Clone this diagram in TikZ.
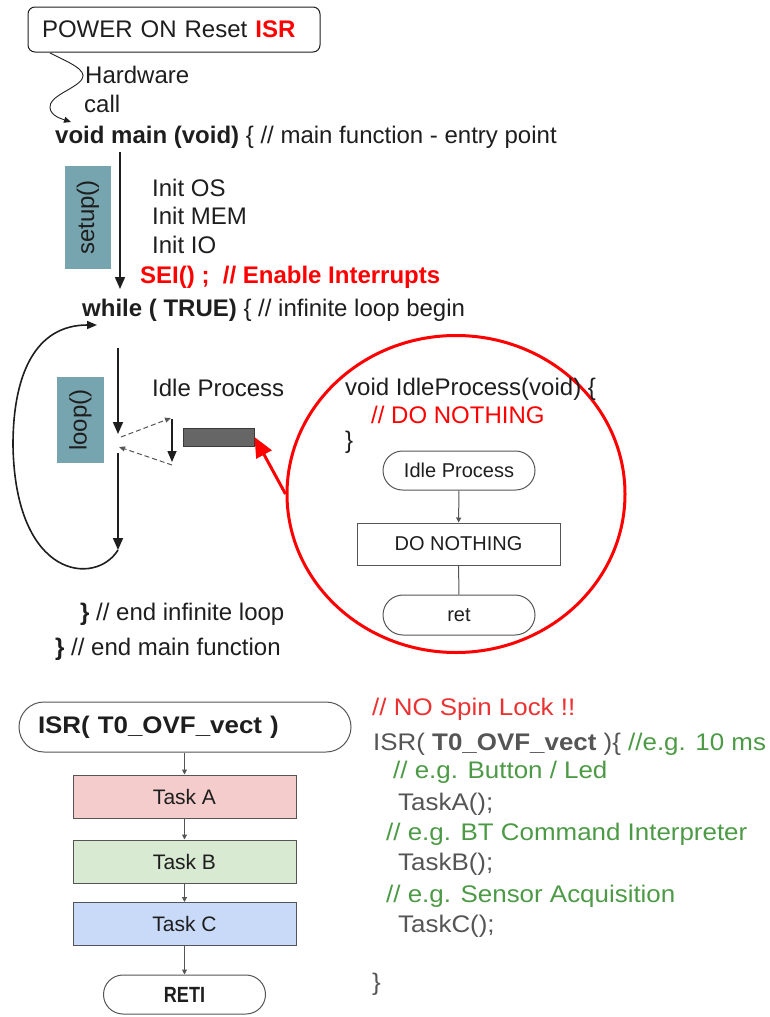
\documentclass[tikz,border=0pt]{standalone}
\usepackage{fontspec}
\setmainfont{Liberation Sans}
\newfontfamily\widesans[FakeStretch=1.08]{Liberation Sans}
\newfontfamily\narrowsans[FakeStretch=0.82]{Liberation Sans}
\usetikzlibrary{arrows.meta,shapes.geometric}

\definecolor{tealc}{HTML}{76A5AF}
\definecolor{barfill}{HTML}{666666}
\definecolor{bardraw}{HTML}{3A3A3A}
\definecolor{codegray}{HTML}{555555}
\definecolor{commgreen}{HTML}{4C9A45}
\definecolor{softred}{HTML}{EB3232}
\definecolor{pinkA}{HTML}{F4CCCC}
\definecolor{greenB}{HTML}{D9EAD3}
\definecolor{blueC}{HTML}{C9DAF8}
\definecolor{flowline}{HTML}{555555}
\definecolor{ink}{HTML}{1E1E1E}

\tikzset{
  txt/.style={inner sep=0pt, anchor=base west, text=ink, font=\fontsize{24}{28}\selectfont},
  code/.style={inner sep=0pt, anchor=base west, text=codegray, font=\widesans\fontsize{24}{28}\selectfont},
  comm/.style={code, text=commgreen},
  tealbox/.style={fill=tealc, draw=none, inner sep=0pt, rotate=90, text=ink, font=\fontsize{24}{28}\selectfont},
  mainarrow/.style={draw=ink, line width=1.8pt, -{Triangle[length=12pt,width=10pt]}},
  looparrow/.style={draw=ink, line width=1.6pt, -{Triangle[length=10pt,width=8pt]}},
  thinarrow/.style={draw=ink, line width=0.9pt, -{Triangle[length=7pt,width=6pt]}},
  dasharrow/.style={draw=codegray, line width=1pt, dashed, dash pattern=on 5pt off 3pt, -{Triangle[length=6pt,width=5pt]}},
  redarrow/.style={draw=red, line width=3pt, -{Triangle[length=20pt,width=17pt]}},
  flowbox/.style={draw=flowline, line width=1pt, inner sep=0pt, text=ink, font=\fontsize{20}{24}\selectfont},
  stadium/.style={flowbox, rounded corners=#1},
  taskbox/.style={draw=flowline, line width=1pt, inner sep=0pt, minimum width=223pt, minimum height=43pt, text=ink, font=\fontsize{21}{24}\selectfont},
  flowarrow/.style={draw=flowline, line width=1pt, -{Triangle[length=5pt,width=5pt]}},
  flowline/.style={draw=flowline, line width=1pt}
}

\begin{document}
\begin{tikzpicture}[x=1pt,y=-1pt]
\useasboundingbox (0,0) rectangle (770,1017);

% ---- reset vector and main entry ----
\node[draw=ink, line width=1pt, rounded corners=7pt, minimum width=292pt, minimum height=45pt,
      inner xsep=14pt, text width=264pt, align=left, text=ink, font=\fontsize{24}{28}\selectfont]
      (power) at (174,29.5) {POWER ON Reset \textcolor{red}{\bfseries ISR}};
\node[txt] (hw) at (85,83) {Hardware};
\node[txt] (call) at (84,112) {call};
\coordinate (hwstart) at (50,53);
\coordinate (hwend) at (71,122);
\draw[thinarrow] (hwstart) .. controls (68,62) and (88,70) .. (82,79)
                 .. controls (76,89) and (48,96) .. (50,108)
                 .. controls (51,116) and (62,119) .. (hwend);

\node[txt] (mainfn) at (55,143) {\textbf{void main (void)} \{ // main function - entry point};

% ---- setup section ----
\node[tealbox, minimum width=103pt, minimum height=46pt] (setup) at (88,217.5) {setup()};
\coordinate (s1) at (120,152);
\coordinate (s2) at (120,289);
\draw[mainarrow] (s1) -- (s2);
\node[txt] (initos) at (152,196) {Init OS};
\node[txt] (initmem) at (152,224.5) {Init MEM};
\node[txt] (initio) at (152,253) {Init IO};
\node[txt, text=red, font=\bfseries\fontsize{24}{28}\selectfont] (sei) at (140,283) {SEI() ;\ \ // Enable Interrupts};
\node[txt] (whileln) at (82,316) {\textbf{while ( TRUE)} \{ // infinite loop begin};

% ---- loop section ----
\node[tealbox, minimum width=86pt, minimum height=47pt] (loopbox) at (80.5,420) {loop()};
\coordinate (l1) at (118,348);
\coordinate (l2) at (118,434);
\coordinate (l3) at (118,453);
\coordinate (l4) at (118,550);
\coordinate (lback) at (97,325);
\draw[mainarrow] (l1) -- (l2);
\draw[mainarrow] (l3) -- (l4);
\draw[looparrow] (l4) .. controls (96,586) and (15,580) .. (13,445)
                 .. controls (13,375) and (35,325) .. (lback);

\node[txt] (idlelbl) at (152,396) {Idle Process};
\coordinate (d1) at (121,437);
\coordinate (d2) at (171,418);
\coordinate (d3) at (172,465);
\coordinate (d4) at (119,447);
\draw[dasharrow] (d1) -- (d2);
\draw[dasharrow] (d3) -- (d4);
\coordinate (v1) at (172,419);
\coordinate (v2) at (172,462);
\draw[draw=ink, line width=1.5pt, -{Triangle[length=11pt,width=9pt]}] (v1) -- (v2);
\node[draw=bardraw, fill=barfill, line width=1pt, minimum width=71pt, minimum height=18pt, inner sep=0pt] (idlebar) at (218.5,437) {};

\node[txt] (endloop) at (80,620) {\textbf{\}} // end infinite loop};
\node[txt] (endmain) at (55,655) {\textbf{\}} // end main function};

% ---- idle process detail ----
\node[draw=red, line width=3pt, ellipse, minimum width=338pt, minimum height=317pt, inner sep=0pt] (bubble) at (456,494) {};
\draw[redarrow] (bubble.west) -- (idlebar.east);
\node[txt] (idlesig) at (345,395) {void IdleProcess(void) \{};
\node[txt, text=red] (idlecomm) at (371,423) {// DO NOTHING};
\node[txt] (idleclose) at (345,448) {\}};
\node[stadium=19.5pt, minimum width=152pt, minimum height=39pt] (idleproc) at (459,470.5) {Idle Process};
\node[flowbox, minimum width=203pt, minimum height=42pt] (donothing) at (458.5,544) {DO NOTHING};
\node[stadium=20pt, minimum width=152pt, minimum height=40pt] (ret) at (459,615) {ret};
\draw[flowarrow] (idleproc) -- (donothing);
\draw[flowline] (donothing) -- (ret);

% ---- timer interrupt flowchart ----
\node[stadium=25pt, minimum width=332pt, minimum height=50pt, inner xsep=19pt, text width=294pt, align=left,
      font=\widesans\bfseries\fontsize{24}{28}\selectfont] (isr) at (185,727) {ISR( T0\_OVF\_vect )};
\node[taskbox, fill=pinkA] (taskA) at (184.5,796.5) {Task A};
\node[taskbox, fill=greenB] (taskB) at (184.5,861.5) {Task B};
\node[taskbox, fill=blueC] (taskC) at (184.5,924) {Task C};
\node[stadium=19.5pt, minimum width=162pt, minimum height=39pt,
      font=\narrowsans\bfseries\fontsize{22}{26}\selectfont] (reti) at (184.5,994.5) {RETI};
\draw[flowarrow] (taskA.north |- isr.south) -- (taskA.north);
\draw[flowarrow] (taskA) -- (taskB);
\draw[flowarrow] (taskB) -- (taskC);
\draw[flowarrow] (taskC) -- (reti);

% ---- timer interrupt source ----
\node[code, text=softred] (spin) at (372,715) {// NO Spin Lock !!};
\node[code] (isrsig) at (373,750) {ISR( \textbf{T0\_OVF\_vect} )\{ \textcolor{commgreen}{//e.g. 10 ms}};
\node[comm] (cA) at (393,778) {// e.g. Button / Led};
\node[code] (tA) at (398,810) {TaskA();};
\node[comm] (cB) at (386,840) {// e.g. BT Command Interpreter};
\node[code] (tB) at (398,870) {TaskB();};
\node[comm] (cC) at (386,902) {// e.g. Sensor Acquisition};
\node[code] (tC) at (398,932) {TaskC();};
\node[code] (isrclose) at (372,990) {\}};
\end{tikzpicture}
\end{document}
